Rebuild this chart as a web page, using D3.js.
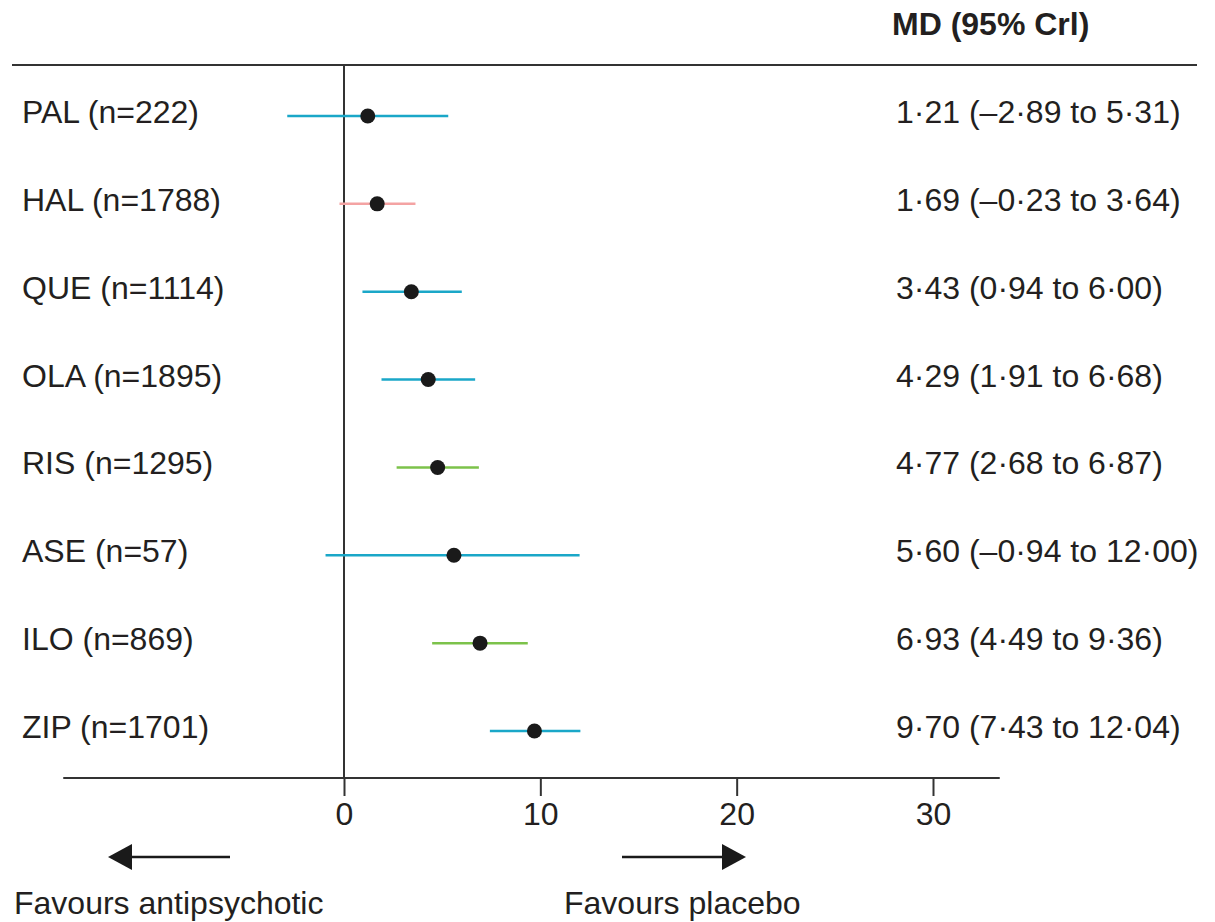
<!DOCTYPE html>
<html><head><meta charset="utf-8">
<script src="https://cdn.jsdelivr.net/npm/d3@7"></script>
<style>
body{margin:0;background:#fff}
text{font-family:"Liberation Sans",Arial,sans-serif;fill:#231f20}
</style></head>
<body><svg id="c" width="1215" height="922"></svg>
<script>
const drugs = ["PAL","HAL","QUE","OLA","RIS","ASE","ILO","ZIP"];
const nPatients = [222,1788,1114,1895,1295,57,869,1701];
const md = [1.21,1.69,3.43,4.29,4.77,5.60,6.93,9.70];
const lower = [-2.89,-0.23,0.94,1.91,2.68,-0.94,4.49,7.43];
const upper = [5.31,3.64,6.00,6.68,6.87,12.00,9.36,12.04];
const groups = ["a","b","a","a","c","a","c","a"];
const tickValues = [0,10,20,30];
const header = "MD (95% Crl)";
const leftNote = "Favours antipsychotic";
const rightNote = "Favours placebo";

const fmt = v => (v<0?"\u2013":"") + Math.abs(v).toFixed(2).replace(".","\u00b7");
const svg = d3.select("#c");
const x = d3.scaleLinear().domain([0,30]).range([344,933]);
const y = d3.scalePoint().domain(drugs).range([116,731]);
const color = d3.scaleOrdinal().domain(["a","b","c"]).range(["#1aa7c8","#f4a3a3","#7cc24a"]);
const axisY = 778;
const FS = 32;

// header
svg.append("text").attr("x",892).attr("y",35).attr("font-size",FS).attr("font-weight","bold").text(header);
svg.append("line").attr("x1",12).attr("x2",1197).attr("y1",65).attr("y2",65).attr("stroke","#333").attr("stroke-width",2);

// zero line
svg.append("line").attr("x1",x(0)).attr("x2",x(0)).attr("y1",65).attr("y2",axisY).attr("stroke","#333").attr("stroke-width",2);

// axis
const ax = svg.append("g").attr("transform",`translate(0,${axisY})`)
  .call(d3.axisBottom(x).tickValues(tickValues).tickSize(18).tickPadding(6).tickFormat(d3.format("d")));
ax.select(".domain").remove();
ax.selectAll(".tick line").attr("stroke","#333").attr("stroke-width",2);
ax.selectAll(".tick text").attr("font-size",FS).attr("fill","#231f20").attr("font-family","Liberation Sans, Arial, sans-serif");
svg.append("line").attr("x1",x(-14.3)).attr("x2",x(33.4)).attr("y1",axisY).attr("y2",axisY).attr("stroke","#333").attr("stroke-width",2);

// rows
const rows = svg.append("g").selectAll("g").data(drugs).join("g");
rows.append("text").attr("x",22).attr("y",d=>y(d)+7).attr("font-size",FS)
  .text((d,i)=>`${d} (n=${nPatients[i]})`);
rows.append("line").attr("x1",(d,i)=>x(lower[i])).attr("x2",(d,i)=>x(upper[i]))
  .attr("y1",d=>y(d)).attr("y2",d=>y(d)).attr("stroke",(d,i)=>color(groups[i])).attr("stroke-width",2.5);
rows.append("circle").attr("cx",(d,i)=>x(md[i])).attr("cy",d=>y(d)).attr("r",7.5).attr("fill","#1a1a1a");
rows.append("text").attr("x",896).attr("y",d=>y(d)+7).attr("font-size",FS)
  .text((d,i)=>`${fmt(md[i])} (${fmt(lower[i])} to ${fmt(upper[i])})`);

// arrows
const m = svg.append("defs").append("marker").attr("id","ah").attr("viewBox","0 0 10 10").attr("refX",0).attr("refY",5)
  .attr("markerWidth",24).attr("markerHeight",26).attr("markerUnits","userSpaceOnUse").attr("orient","auto")
  .attr("preserveAspectRatio","none");
m.append("path").attr("d","M0,0L10,5L0,10Z").attr("fill","#1a1a1a");
svg.append("line").attr("x1",230).attr("x2",132).attr("y1",857).attr("y2",857).attr("stroke","#1a1a1a").attr("stroke-width",2.5).attr("marker-end","url(#ah)");
svg.append("line").attr("x1",622).attr("x2",722).attr("y1",857).attr("y2",857).attr("stroke","#1a1a1a").attr("stroke-width",2.5).attr("marker-end","url(#ah)");
svg.append("text").attr("x",14).attr("y",914).attr("font-size",FS).text(leftNote);
svg.append("text").attr("x",564).attr("y",914).attr("font-size",FS).text(rightNote);
</script></body></html>
